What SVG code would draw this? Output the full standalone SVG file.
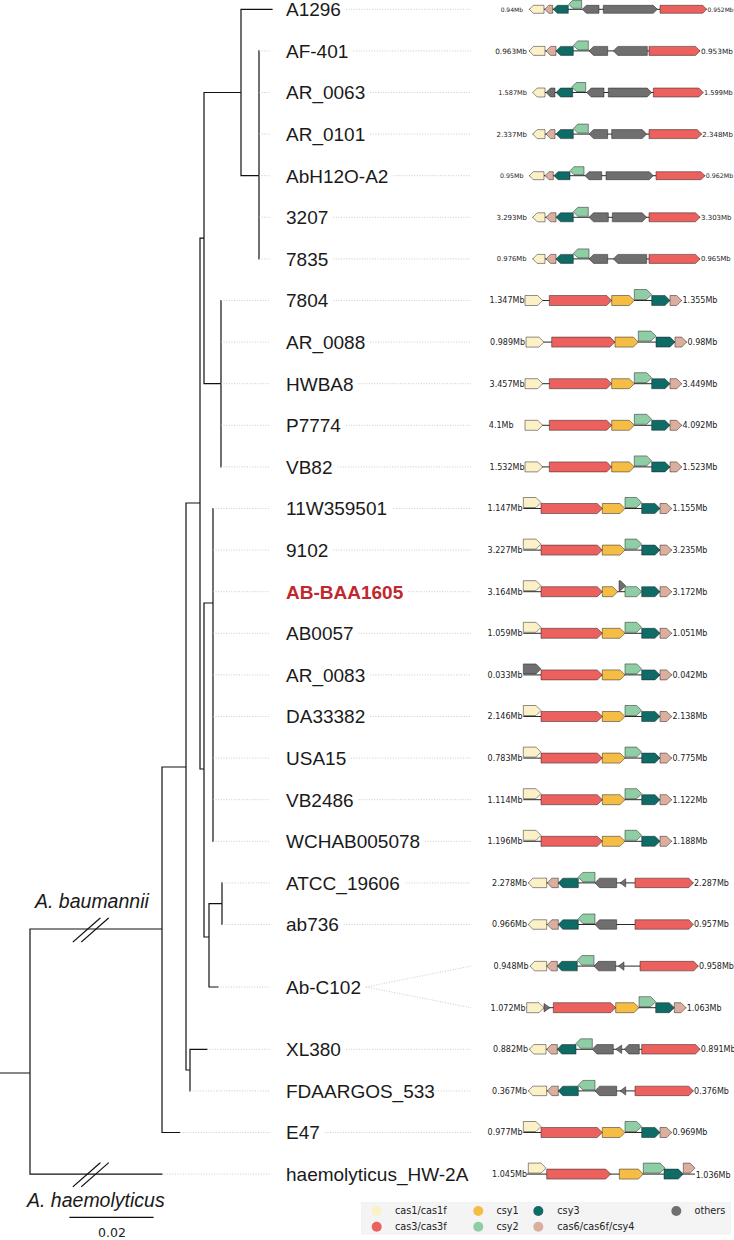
<svg xmlns="http://www.w3.org/2000/svg" xmlns:xlink="http://www.w3.org/1999/xlink" width="734" height="1240" viewBox="0 0 734 1240">
<style>
.t{stroke:#111;stroke-width:1.2;fill:none;stroke-linecap:square}
.d{stroke:#bdbdbd;stroke-width:0.8;stroke-dasharray:1 1.6;fill:none}
.lab{font-family:"Liberation Sans",Arial,sans-serif;font-size:19px;fill:#1a1a1a}
.it{font-family:"Liberation Sans",Arial,sans-serif;font-size:19.5px;font-style:italic;fill:#1a1a1a}
.mb{font-family:"DejaVu Sans",sans-serif;font-size:8px;fill:#222}
.e{text-anchor:end}
.lg{font-family:"DejaVu Sans",sans-serif;font-size:9.7px;fill:#222}
.bb{stroke:#111;stroke-width:0.9}
polygon{stroke:#222;stroke-width:0.5;stroke-linejoin:round}
.c1{fill:#FCF0C6}.c3{fill:#EC605D}.y1{fill:#F6BD45}.y2{fill:#8FCEA5}.y3{fill:#0E6B66}.c6{fill:#DBAE9D}.ot{fill:#716E70}
</style>
<defs>
<g id="opB">
<line class="bb" x1="525" y1="0" x2="681.7" y2="0"/>
<polygon class="c1" points="525,-5 537.7,-5 542.7,0 537.7,5 525,5"/>
<polygon class="c3" points="549.3,-5 606.7,-5 611.7,0 606.7,5 549.3,5"/>
<polygon class="y1" points="611.7,-5 629.3,-5 634.3,0 629.3,5 611.7,5"/>
<polygon class="y2" points="634.3,-11 646.7,-11 651.7,-6 646.7,-1 634.3,-1"/>
<polygon class="y3" points="651.7,-5 665,-5 670,0 665,5 651.7,5"/>
<polygon class="c6" points="670,-5 676.7,-5 681.7,0 676.7,5 670,5"/>
</g>
<g id="opCbody">
<line class="bb" x1="523.3" y1="0" x2="671.7" y2="0"/>
<polygon class="c3" points="541,-5 597.3,-5 602.3,0 597.3,5 541,5"/>
<polygon class="y3" points="641.7,-5 655,-5 660,0 655,5 641.7,5"/>
<polygon class="c6" points="660,-5 666.7,-5 671.7,0 666.7,5 660,5"/>
</g>
<g id="opC">
<use xlink:href="#opCbody"/>
<polygon class="c1" points="523.3,-11 536,-11 541,-6 536,-1 523.3,-1"/>
<polygon class="y1" points="602.3,-5 620,-5 625,0 620,5 602.3,5"/>
<polygon class="y2" points="625,-11 636.7,-11 641.7,-6 636.7,-1 625,-1"/>
</g>
<g id="opCg">
<use xlink:href="#opCbody"/>
<polygon class="ot" points="523.3,-11 536,-11 541,-6 536,-1 523.3,-1"/>
<polygon class="y1" points="602.3,-5 620,-5 625,0 620,5 602.3,5"/>
<polygon class="y2" points="625,-11 636.7,-11 641.7,-6 636.7,-1 625,-1"/>
</g>
<g id="opD2">
<line class="bb" x1="528.3" y1="0" x2="693.3" y2="0"/>
<polygon class="c1" points="528.3,0 532.8,-4.75 546.7,-4.75 546.7,4.75 532.8,4.75"/>
<polygon class="c6" points="547.3,0 551.8,-4.75 558.3,-4.75 558.3,4.75 551.8,4.75"/>
<polygon class="y3" points="558.3,0 562.8,-4.75 578.3,-4.75 578.3,4.75 562.8,4.75"/>
<polygon class="y2" points="578.3,-5.75 582.8,-10.5 595,-10.5 595,-1 582.8,-1"/>
<polygon class="ot" points="595,0 599.5,-4.75 616.7,-4.75 616.7,4.75 599.5,4.75"/>
<polygon class="c3" points="635,-4.75 688.8,-4.75 693.3,0 688.8,4.75 635,4.75"/>
</g>
<g id="opD">
<use xlink:href="#opD2"/>
<polygon class="ot" points="620,0 625.7,-4.2 625.7,4.2"/>
</g>
</defs>

<g id="connectors">
<path class="t" d="M0 1073H30 M30 929V1174.1 M30 929H162 M30 1174.1H162 M162 767V1132.5 M162 1132.5H180 M162 767H186 M186 503V1070 M186 1070H190 M190 1049.3V1090.9 M190 1049.3H207 M186 503H200 M200 238.1V769 M200 238.1H204 M204 92.5V383.7 M204 92.5H241 M241 9.3V175.7 M241 9.3H272 M241 175.7H259 M259 50.9V258.9 M204 383.7H221 M221 300.5V466.9 M200 769H204 M204 603V937 M204 603H213 M213 508.5V841.3 M204 937H209 M209 903.7V987 M209 903.7H222 M222 882.9V924.5 M209 987H218"/>
<path class="t" d="M73.3 941.7L100 918.3 M81.7 941.7L108.3 918.3 M73.3 1186.5L100 1163 M81.7 1186.5L108.3 1163"/>
<path class="t" d="M70 1217.3H153"/>
<path class="d" d="M259 50.9H270 M259 92.5H270 M259 134.1H270 M259 175.7H270 M259 217.3H270 M259 258.9H270 M221 300.5H270 M221 342.1H270 M221 383.7H270 M221 425.3H270 M221 466.9H270 M213 508.5H270 M213 550.1H270 M213 591.7H270 M213 633.3H270 M213 674.9H270 M213 716.5H270 M213 758.1H270 M213 799.7H270 M213 841.3H270 M222 882.9H270 M222 924.5H270 M218 987H270 M207 1049.3H270 M190 1090.9H270 M180 1132.5H270 M162 1174.1H270"/>
<path class="d" d="M346 9.3H471 M353.3 50.9H471 M370.2 92.5H471 M370.2 134.1H471 M393.4 175.7H471 M333.3 217.3H471 M333.3 258.9H471 M333.3 300.5H471 M370.2 342.1H471 M358.6 383.7H471 M346 425.3H471 M337.5 466.9H471 M393.4 508.5H471 M333.3 550.1H471 M408.2 591.7H471 M358.6 633.3H471 M370.2 674.9H471 M370.2 716.5H471 M351.2 758.1H471 M358.6 799.7H471 M425.1 841.3H471 M406.1 882.9H471 M343.8 924.5H471 M366 987L471 966.1 M366 987L471 1007.7 M346 1049.3H471 M425.1 1090.9H471 M324.8 1132.5H471"/>
</g>

<g id="clade-labels">
<text class="it" x="35" y="908.3">A. baumannii</text>
<text class="it" x="27" y="1207.3">A. haemolyticus</text>
<text x="112" y="1237.3" text-anchor="middle" style="font-family:'DejaVu Sans',sans-serif;font-size:12.5px;fill:#222">0.02</text>
</g>

<g id="leaf-A1296">
<text class="lab" x="286" y="16.1">A1296</text>
<g transform="translate(0,9.3)">
<line class="bb" x1="529.3" y1="0" x2="706.7" y2="0"/>
<polygon class="c1" points="529.3,0 533.3,-4 544,-4 544,4 533.3,4"/>
<polygon class="c6" points="544.7,0 548.7,-4 552.7,-4 552.7,4 548.7,4"/>
<polygon class="y3" points="553.3,0 557.3,-4 568.3,-4 568.3,4 557.3,4"/>
<polygon class="y2" points="568.7,-5 572.7,-9 581.7,-9 581.7,-1 572.7,-1"/>
<polygon class="ot" points="582.3,0 586.3,-4 599,-4 599,4 586.3,4"/>
<polygon class="ot" points="603.3,-4 653.3,-4 657.3,0 653.3,4 603.3,4"/>
<polygon class="c3" points="660,-4 702.7,-4 706.7,0 702.7,4 660,4"/>
<text class="mb e" x="523" y="2.2" style="font-size:6px">0.94Mb</text>
<text class="mb" x="707.5" y="2.2" style="font-size:6px">0.952Mb</text>
</g>
</g>

<g id="leaf-AF-401">
<text class="lab" x="286" y="57.7">AF-401</text>
<g transform="translate(0,50.9)">
<line class="bb" x1="529" y1="0" x2="700" y2="0"/>
<polygon class="c1" points="529,0 533.5,-4.5 545,-4.5 545,4.5 533.5,4.5"/>
<polygon class="c6" points="546,0 550.5,-4.5 556,-4.5 556,4.5 550.5,4.5"/>
<polygon class="y3" points="556,0 560.5,-4.5 573.3,-4.5 573.3,4.5 560.5,4.5"/>
<polygon class="y2" points="573.3,-5.5 577.8,-10 588.3,-10 588.3,-1 577.8,-1"/>
<polygon class="ot" points="589,0 593.5,-4.5 607.7,-4.5 607.7,4.5 593.5,4.5"/>
<polygon class="ot" points="613.3,0 617.8,-4.5 647.3,-4.5 647.3,4.5 617.8,4.5"/>
<polygon class="c3" points="649,-4.5 695.5,-4.5 700,0 695.5,4.5 649,4.5"/>
<text class="mb e" x="527" y="2.6" style="font-size:7.3px">0.963Mb</text>
<text class="mb" x="701" y="2.6" style="font-size:7.3px">0.953Mb</text>
</g>
</g>

<g id="leaf-AR_0063">
<text class="lab" x="286" y="99.3">AR_0063</text>
<g transform="translate(0,92.5)">
<line class="bb" x1="532.7" y1="0" x2="703.3" y2="0"/>
<polygon class="c1" points="532.7,0 537.2,-4.5 545,-4.5 545,4.5 537.2,4.5"/>
<polygon class="ot" points="546,0 550.5,-4.5 555,-4.5 555,4.5 550.5,4.5"/>
<polygon class="y3" points="556,0 560.5,-4.5 572.7,-4.5 572.7,4.5 560.5,4.5"/>
<polygon class="y2" points="571.7,-5.5 576.2,-10 585.7,-10 585.7,-1 576.2,-1"/>
<polygon class="ot" points="586.7,0 591.2,-4.5 604,-4.5 604,4.5 591.2,4.5"/>
<polygon class="ot" points="608.3,-4.5 647.2,-4.5 651.7,0 647.2,4.5 608.3,4.5"/>
<polygon class="c3" points="653.3,-4.5 698.8,-4.5 703.3,0 698.8,4.5 653.3,4.5"/>
<text class="mb e" x="527" y="2.4" style="font-size:6.6px">1.587Mb</text>
<text class="mb" x="704" y="2.4" style="font-size:6.6px">1.599Mb</text>
</g>
</g>

<g id="leaf-AR_0101">
<text class="lab" x="286" y="140.9">AR_0101</text>
<g transform="translate(0,134.1)">
<line class="bb" x1="532.7" y1="0" x2="701.7" y2="0"/>
<polygon class="c1" points="532.7,0 537.2,-4.5 545,-4.5 545,4.5 537.2,4.5"/>
<polygon class="c6" points="546,0 550.5,-4.5 555,-4.5 555,4.5 550.5,4.5"/>
<polygon class="y3" points="556,0 560.5,-4.5 573.3,-4.5 573.3,4.5 560.5,4.5"/>
<polygon class="y2" points="573.3,-5.5 577.8,-10 588.3,-10 588.3,-1 577.8,-1"/>
<polygon class="ot" points="589,0 593.5,-4.5 607.7,-4.5 607.7,4.5 593.5,4.5"/>
<polygon class="ot" points="611.7,-4.5 642.2,-4.5 646.7,0 642.2,4.5 611.7,4.5"/>
<polygon class="c3" points="649,-4.5 697.2,-4.5 701.7,0 697.2,4.5 649,4.5"/>
<text class="mb e" x="527" y="2.5" style="font-size:7px">2.337Mb</text>
<text class="mb" x="702.3" y="2.5" style="font-size:7px">2.348Mb</text>
</g>
</g>

<g id="leaf-AbH12O-A2">
<text class="lab" x="286" y="182.5">AbH12O-A2</text>
<g transform="translate(0,175.7)">
<line class="bb" x1="529.3" y1="0" x2="705" y2="0"/>
<polygon class="c1" points="529.3,0 533.3,-4 544,-4 544,4 533.3,4"/>
<polygon class="c6" points="545,0 549,-4 553.3,-4 553.3,4 549,4"/>
<polygon class="y3" points="554,0 558,-4 570,-4 570,4 558,4"/>
<polygon class="y2" points="570,-5 574,-9 584,-9 584,-1 574,-1"/>
<polygon class="ot" points="585,0 589,-4 601.7,-4 601.7,4 589,4"/>
<polygon class="ot" points="606,-4 649.3,-4 653.3,0 649.3,4 606,4"/>
<polygon class="c3" points="656,-4 701,-4 705,0 701,4 656,4"/>
<text class="mb e" x="523.5" y="2.3" style="font-size:6.3px">0.95Mb</text>
<text class="mb" x="705.7" y="2.3" style="font-size:6.3px">0.962Mb</text>
</g>
</g>

<g id="leaf-3207">
<text class="lab" x="286" y="224.1">3207</text>
<g transform="translate(0,217.3)">
<line class="bb" x1="532.7" y1="0" x2="700" y2="0"/>
<polygon class="c1" points="532.7,0 537.2,-4.5 545,-4.5 545,4.5 537.2,4.5"/>
<polygon class="c6" points="546,0 550.5,-4.5 556,-4.5 556,4.5 550.5,4.5"/>
<polygon class="y3" points="556,0 560.5,-4.5 573.3,-4.5 573.3,4.5 560.5,4.5"/>
<polygon class="y2" points="573.3,-5.5 577.8,-10 588.3,-10 588.3,-1 577.8,-1"/>
<polygon class="ot" points="589,0 593.5,-4.5 608.3,-4.5 608.3,4.5 593.5,4.5"/>
<polygon class="ot" points="612.3,-4.5 642.2,-4.5 646.7,0 642.2,4.5 612.3,4.5"/>
<polygon class="c3" points="649,-4.5 695.5,-4.5 700,0 695.5,4.5 649,4.5"/>
<text class="mb e" x="527" y="2.5" style="font-size:7px">3.293Mb</text>
<text class="mb" x="701" y="2.5" style="font-size:7px">3.303Mb</text>
</g>
</g>

<g id="leaf-7835">
<text class="lab" x="286" y="265.7">7835</text>
<g transform="translate(0,258.9)">
<line class="bb" x1="532.7" y1="0" x2="700" y2="0"/>
<polygon class="c1" points="532.7,0 537.2,-4.5 545,-4.5 545,4.5 537.2,4.5"/>
<polygon class="c6" points="546,0 550.5,-4.5 556,-4.5 556,4.5 550.5,4.5"/>
<polygon class="y3" points="556,0 560.5,-4.5 573.3,-4.5 573.3,4.5 560.5,4.5"/>
<polygon class="y2" points="573.3,-5.5 577.8,-10 589,-10 589,-1 577.8,-1"/>
<polygon class="ot" points="589,0 593.5,-4.5 607.7,-4.5 607.7,4.5 593.5,4.5"/>
<polygon class="ot" points="613.3,0 617.8,-4.5 646.7,-4.5 646.7,4.5 617.8,4.5"/>
<polygon class="c3" points="649,-4.5 695.5,-4.5 700,0 695.5,4.5 649,4.5"/>
<text class="mb e" x="526.5" y="2.4" style="font-size:6.8px">0.976Mb</text>
<text class="mb" x="701" y="2.4" style="font-size:6.8px">0.965Mb</text>
</g>
</g>

<g id="leaf-7804">
<text class="lab" x="286" y="307.3">7804</text>
<g transform="translate(0,300.5)">
<use xlink:href="#opB"/>
<text class="mb e" x="524.5" y="2.9">1.347Mb</text>
<text class="mb" x="682.5" y="2.9">1.355Mb</text>
</g>
</g>

<g id="leaf-AR_0088">
<text class="lab" x="286" y="348.9">AR_0088</text>
<g transform="translate(0,342.1)">
<line class="bb" x1="526" y1="0" x2="686.7" y2="0"/>
<polygon class="c1" points="526,-5 539,-5 544,0 539,5 526,5"/>
<polygon class="c3" points="551.7,-5 610,-5 615,0 610,5 551.7,5"/>
<polygon class="y1" points="615,-5 633.3,-5 638.3,0 633.3,5 615,5"/>
<polygon class="y2" points="638.3,-11 651,-11 656,-6 651,-1 638.3,-1"/>
<polygon class="y3" points="656,-5 670,-5 675,0 670,5 656,5"/>
<polygon class="c6" points="675,-5 681.7,-5 686.7,0 681.7,5 675,5"/>
<text class="mb e" x="525" y="2.9">0.989Mb</text>
<text class="mb" x="687.5" y="2.9">0.98Mb</text>
</g>
</g>

<g id="leaf-HWBA8">
<text class="lab" x="286" y="390.5">HWBA8</text>
<g transform="translate(0,383.7)">
<use xlink:href="#opB"/>
<text class="mb e" x="524.5" y="2.9">3.457Mb</text>
<text class="mb" x="682.5" y="2.9">3.449Mb</text>
</g>
</g>

<g id="leaf-P7774">
<text class="lab" x="286" y="432.1">P7774</text>
<g transform="translate(0,425.3)">
<use xlink:href="#opB"/>
<text class="mb e" x="513.5" y="2.9">4.1Mb</text>
<text class="mb" x="682.5" y="2.9">4.092Mb</text>
</g>
</g>

<g id="leaf-VB82">
<text class="lab" x="286" y="473.7">VB82</text>
<g transform="translate(0,466.9)">
<use xlink:href="#opB"/>
<text class="mb e" x="524.5" y="2.9">1.532Mb</text>
<text class="mb" x="682.5" y="2.9">1.523Mb</text>
</g>
</g>

<g id="leaf-11W359501">
<text class="lab" x="286" y="515.3">11W359501</text>
<g transform="translate(0,508.5)">
<use xlink:href="#opC"/>
<text class="mb e" x="522.5" y="2.9">1.147Mb</text>
<text class="mb" x="672.5" y="2.9">1.155Mb</text>
</g>
</g>

<g id="leaf-9102">
<text class="lab" x="286" y="556.9">9102</text>
<g transform="translate(0,550.1)">
<use xlink:href="#opC"/>
<text class="mb e" x="522.5" y="2.9">3.227Mb</text>
<text class="mb" x="672.5" y="2.9">3.235Mb</text>
</g>
</g>

<g id="leaf-AB-BAA1605">
<text class="lab" x="286" y="598.5" style="font-weight:bold;fill:#C1272D">AB-BAA1605</text>
<g transform="translate(0,591.7)">
<use xlink:href="#opCbody"/>
<polygon class="c1" points="523.3,-11 536,-11 541,-6 536,-1 523.3,-1"/>
<polygon class="y1" points="602.3,-5 612.7,-5 617.7,0 612.7,5 602.3,5"/>
<polygon class="ot" points="619,-11 620.5,-11 625.7,-6 620.5,-1 619,-1"/>
<polygon class="y2" points="625,-5 636.7,-5 641.7,0 636.7,5 625,5"/>
<text class="mb e" x="522.5" y="2.9">3.164Mb</text>
<text class="mb" x="672.5" y="2.9">3.172Mb</text>
</g>
</g>

<g id="leaf-AB0057">
<text class="lab" x="286" y="640.1">AB0057</text>
<g transform="translate(0,633.3)">
<use xlink:href="#opC"/>
<text class="mb e" x="522.5" y="2.9">1.059Mb</text>
<text class="mb" x="672.5" y="2.9">1.051Mb</text>
</g>
</g>

<g id="leaf-AR_0083">
<text class="lab" x="286" y="681.7">AR_0083</text>
<g transform="translate(0,674.9)">
<use xlink:href="#opCg"/>
<text class="mb e" x="522.5" y="2.9">0.033Mb</text>
<text class="mb" x="672.5" y="2.9">0.042Mb</text>
</g>
</g>

<g id="leaf-DA33382">
<text class="lab" x="286" y="723.3">DA33382</text>
<g transform="translate(0,716.5)">
<use xlink:href="#opC"/>
<text class="mb e" x="522.5" y="2.9">2.146Mb</text>
<text class="mb" x="672.5" y="2.9">2.138Mb</text>
</g>
</g>

<g id="leaf-USA15">
<text class="lab" x="286" y="764.9">USA15</text>
<g transform="translate(0,758.1)">
<use xlink:href="#opC"/>
<text class="mb e" x="522.5" y="2.9">0.783Mb</text>
<text class="mb" x="672.5" y="2.9">0.775Mb</text>
</g>
</g>

<g id="leaf-VB2486">
<text class="lab" x="286" y="806.5">VB2486</text>
<g transform="translate(0,799.7)">
<use xlink:href="#opC"/>
<text class="mb e" x="522.5" y="2.9">1.114Mb</text>
<text class="mb" x="672.5" y="2.9">1.122Mb</text>
</g>
</g>

<g id="leaf-WCHAB005078">
<text class="lab" x="286" y="848.1">WCHAB005078</text>
<g transform="translate(0,841.3)">
<use xlink:href="#opC"/>
<text class="mb e" x="522.5" y="2.9">1.196Mb</text>
<text class="mb" x="672.5" y="2.9">1.188Mb</text>
</g>
</g>

<g id="leaf-ATCC_19606">
<text class="lab" x="286" y="889.7">ATCC_19606</text>
<g transform="translate(0,882.9)">
<use xlink:href="#opD"/>
<text class="mb e" x="527" y="2.9">2.278Mb</text>
<text class="mb" x="694" y="2.9">2.287Mb</text>
</g>
</g>

<g id="leaf-ab736">
<text class="lab" x="286" y="931.3">ab736</text>
<g transform="translate(0,924.5)">
<use xlink:href="#opD2"/>
<text class="mb e" x="527" y="2.9">0.966Mb</text>
<text class="mb" x="694" y="2.9">0.957Mb</text>
</g>
</g>

<g id="leaf-Ab-C102">
<text class="lab" x="286" y="993.8">Ab-C102</text>
<g transform="translate(0,966.1)">
<line class="bb" x1="530" y1="0" x2="698.3" y2="0"/>
<polygon class="c1" points="530,0 534.5,-4.75 546.7,-4.75 546.7,4.75 534.5,4.75"/>
<polygon class="c6" points="546.7,0 551.2,-4.75 557.3,-4.75 557.3,4.75 551.2,4.75"/>
<polygon class="y3" points="557.3,0 561.8,-4.75 577.3,-4.75 577.3,4.75 561.8,4.75"/>
<polygon class="y2" points="577.3,-5.75 581.8,-10.5 594,-10.5 594,-1 581.8,-1"/>
<polygon class="ot" points="594,0 598.5,-4.75 615.7,-4.75 615.7,4.75 598.5,4.75"/>
<polygon class="ot" points="618.3,0 624,-4.2 624,4.2"/>
<polygon class="c3" points="640,-4.75 693.8,-4.75 698.3,0 693.8,4.75 640,4.75"/>
<text class="mb e" x="528.5" y="2.9">0.948Mb</text>
<text class="mb" x="699" y="2.9">0.958Mb</text>
</g>
<g transform="translate(0,1007.7)">
<line class="bb" x1="526.7" y1="0" x2="686" y2="0"/>
<polygon class="c1" points="526.7,-5 539,-5 544,0 539,5 526.7,5"/>
<polygon class="ot" points="544,-4.2 550,0 544,4.2"/>
<polygon class="c3" points="553.3,-5 610.7,-5 615.7,0 610.7,5 553.3,5"/>
<polygon class="y1" points="615.7,-5 634,-5 639,0 634,5 615.7,5"/>
<polygon class="y2" points="639,-11 650.7,-11 655.7,-6 650.7,-1 639,-1"/>
<polygon class="y3" points="655.7,-5 669.3,-5 674.3,0 669.3,5 655.7,5"/>
<polygon class="c6" points="674.3,-5 681,-5 686,0 681,5 674.3,5"/>
<text class="mb e" x="525.5" y="2.9">1.072Mb</text>
<text class="mb" x="686.7" y="2.9">1.063Mb</text>
</g>
</g>

<g id="leaf-XL380">
<text class="lab" x="286" y="1056.1">XL380</text>
<g transform="translate(0,1049.3)">
<line class="bb" x1="529.3" y1="0" x2="700" y2="0"/>
<polygon class="c1" points="529.3,0 533.8,-4.75 546,-4.75 546,4.75 533.8,4.75"/>
<polygon class="c6" points="546.7,0 551.2,-4.75 557.3,-4.75 557.3,4.75 551.2,4.75"/>
<polygon class="y3" points="557.3,0 561.8,-4.75 576,-4.75 576,4.75 561.8,4.75"/>
<polygon class="y2" points="576,-5.75 580.5,-10.5 592.3,-10.5 592.3,-1 580.5,-1"/>
<polygon class="ot" points="592.3,0 596.8,-4.75 613.3,-4.75 613.3,4.75 596.8,4.75"/>
<polygon class="ot" points="615.7,0 621.7,-4.2 621.7,4.2"/>
<polygon class="ot" points="624.3,0 628.8,-4.75 639.3,-4.75 639.3,4.75 628.8,4.75"/>
<polygon class="c3" points="641.7,-4.75 695.5,-4.75 700,0 695.5,4.75 641.7,4.75"/>
<text class="mb e" x="528" y="2.9">0.882Mb</text>
<text class="mb" x="700.7" y="2.9">0.891Mb</text>
</g>
</g>

<g id="leaf-FDAARGOS_533">
<text class="lab" x="286" y="1097.7">FDAARGOS_533</text>
<g transform="translate(0,1090.9)">
<use xlink:href="#opD"/>
<text class="mb e" x="527" y="2.9">0.367Mb</text>
<text class="mb" x="694" y="2.9">0.376Mb</text>
</g>
</g>

<g id="leaf-E47">
<text class="lab" x="286" y="1139.3">E47</text>
<g transform="translate(0,1132.5)">
<use xlink:href="#opC"/>
<text class="mb e" x="522.5" y="2.9">0.977Mb</text>
<text class="mb" x="672.5" y="2.9">0.969Mb</text>
</g>
</g>

<g id="leaf-haemolyticus_HW-2A">
<text class="lab" x="286" y="1180.9">haemolyticus_HW-2A</text>
<g transform="translate(0,1174.1)">
<line class="bb" x1="527" y1="0" x2="695" y2="0"/>
<polygon class="c1" points="528.3,-11 541,-11 546,-6 541,-1 528.3,-1"/>
<polygon class="c3" points="546.7,-5 605.7,-5 610.7,0 605.7,5 546.7,5"/>
<polygon class="y1" points="619.3,-5 638.3,-5 643.3,0 638.3,5 619.3,5"/>
<polygon class="y2" points="643.3,-11 660,-11 665,-6 660,-1 643.3,-1"/>
<polygon class="y3" points="664,-5 678.3,-5 683.3,0 678.3,5 664,5"/>
<polygon class="c6" points="683.3,-11 690,-11 695,-6 690,-1 683.3,-1"/>
<text class="mb e" x="527" y="2.9">1.045Mb</text>
<text class="mb" x="695.7" y="3.9">1.036Mb</text>
</g>
</g>

<g id="legend">
<rect x="361.7" y="1202.7" width="369" height="31.3" fill="#f4f4f4" stroke="#ececec" stroke-width="0.6"/>
<circle cx="376.7" cy="1211" r="5" fill="#FCF0C6"/>
<text class="lg" x="395" y="1214.3">cas1/cas1f</text>
<circle cx="376.7" cy="1226.7" r="5" fill="#EC605D"/>
<text class="lg" x="395" y="1230">cas3/cas3f</text>
<circle cx="478.3" cy="1211" r="5" fill="#F6BD45"/>
<text class="lg" x="496.5" y="1214.3">csy1</text>
<circle cx="478.3" cy="1226.7" r="5" fill="#8FCEA5"/>
<text class="lg" x="496.5" y="1230">csy2</text>
<circle cx="538.3" cy="1211" r="5" fill="#0E6B66"/>
<text class="lg" x="557.3" y="1214.3">csy3</text>
<circle cx="538.3" cy="1226.7" r="5" fill="#DBAE9D"/>
<text class="lg" x="557.3" y="1230">cas6/cas6f/csy4</text>
<circle cx="676.3" cy="1211" r="5" fill="#716E70"/>
<text class="lg" x="694.5" y="1214.3">others</text>
</g>
</svg>
